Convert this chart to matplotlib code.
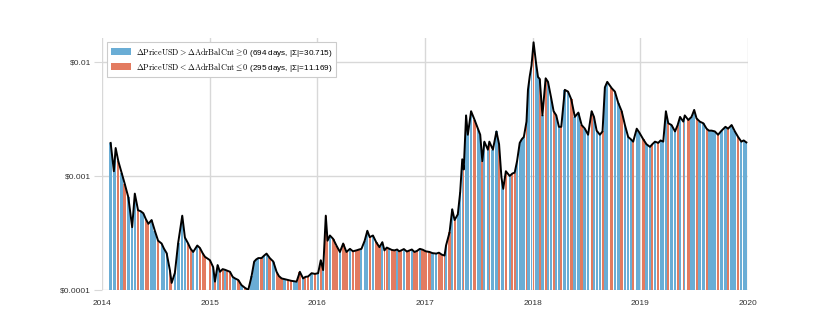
import numpy as np
import pandas as pd
import matplotlib
matplotlib.use("Agg")
import matplotlib.pyplot as plt
import matplotlib.dates as mdates
from matplotlib.patches import Patch
from matplotlib.ticker import FixedLocator, NullLocator

plt.rcParams['font.family'] = ['Liberation Sans', 'DejaVu Sans']
plt.rcParams['mathtext.fontset'] = 'cm'

dates = (
    ["2014-01-30", "2014-02-10", "2014-02-16", "2014-02-25", "2014-03-08", "2014-03-19", "2014-03-31",
     "2014-04-13", "2014-04-22", "2014-05-03", "2014-05-12", "2014-05-21", "2014-05-29", "2014-06-07",
     "2014-06-18", "2014-06-29", "2014-07-10", "2014-07-22", "2014-07-30", "2014-08-08", "2014-08-19",
     "2014-08-25", "2014-09-05", "2014-09-16", "2014-09-30", "2014-10-09", "2014-10-20", "2014-10-28",
     "2014-11-06", "2014-11-20", "2014-11-29", "2014-12-08", "2014-12-16"]
    + ["2015-01-02", "2015-01-13", "2015-01-19", "2015-01-28", "2015-02-05", "2015-02-14", "2015-02-22",
       "2015-03-02", "2015-03-11", "2015-03-20", "2015-03-28", "2015-04-08", "2015-04-19", "2015-05-01",
       "2015-05-12", "2015-05-23", "2015-06-01", "2015-06-08", "2015-06-15", "2015-06-26", "2015-07-05",
       "2015-07-13", "2015-07-24", "2015-08-05", "2015-08-16", "2015-08-24", "2015-09-02", "2015-09-13",
       "2015-09-24", "2015-10-05", "2015-10-14", "2015-10-23", "2015-11-03", "2015-11-14", "2015-11-22",
       "2015-12-01", "2015-12-13", "2015-12-24"]
    + ["2016-01-04", "2016-01-13", "2016-01-21", "2016-01-30", "2016-02-05", "2016-02-13", "2016-02-24",
       "2016-03-06", "2016-03-18", "2016-03-29", "2016-04-09", "2016-04-21", "2016-05-01", "2016-05-13",
       "2016-05-22", "2016-05-30", "2016-06-10", "2016-06-19", "2016-06-27", "2016-07-08", "2016-07-19",
       "2016-07-30", "2016-08-09", "2016-08-16", "2016-08-24", "2016-09-02", "2016-09-10", "2016-09-19",
       "2016-09-28", "2016-10-05", "2016-10-12", "2016-10-21", "2016-10-31", "2016-11-09", "2016-11-17",
       "2016-11-26", "2016-12-05", "2016-12-14", "2016-12-24"]
    + ["2017-01-03", "2017-01-16", "2017-01-26", "2017-02-08", "2017-02-17", "2017-02-26", "2017-03-08",
       "2017-03-13", "2017-03-25", "2017-04-03", "2017-04-11", "2017-04-22", "2017-04-30", "2017-05-07",
       "2017-05-12", "2017-05-20", "2017-05-26", "2017-06-06", "2017-06-18", "2017-06-29", "2017-07-07",
       "2017-07-14", "2017-07-21", "2017-08-02", "2017-08-07", "2017-08-19", "2017-08-31", "2017-09-09",
       "2017-09-17", "2017-09-23", "2017-10-02", "2017-10-15", "2017-10-24", "2017-11-01", "2017-11-09",
       "2017-11-18", "2017-11-25", "2017-12-02", "2017-12-11", "2017-12-16", "2017-12-22", "2017-12-28"]
    + ["2018-01-04", "2018-01-12", "2018-01-19", "2018-01-25", "2018-02-03", "2018-02-14", "2018-02-22",
       "2018-03-05", "2018-03-13", "2018-03-22", "2018-03-31", "2018-04-08", "2018-04-20", "2018-05-01",
       "2018-05-12", "2018-05-24", "2018-06-05", "2018-06-16", "2018-06-27", "2018-07-08", "2018-07-20",
       "2018-07-28", "2018-08-06", "2018-08-17", "2018-08-26", "2018-09-03", "2018-09-11", "2018-09-26",
       "2018-10-07", "2018-10-18", "2018-10-30", "2018-11-10", "2018-11-21", "2018-11-30", "2018-12-08",
       "2018-12-20", "2018-12-29"]
    + ["2019-01-11", "2019-01-22", "2019-02-03", "2019-02-11", "2019-02-20", "2019-03-03", "2019-03-11",
       "2019-03-20", "2019-03-29", "2019-04-06", "2019-04-17", "2019-04-29", "2019-05-08", "2019-05-16",
       "2019-05-27", "2019-06-01", "2019-06-13", "2019-06-24", "2019-07-03", "2019-07-11", "2019-07-22",
       "2019-08-03", "2019-08-14", "2019-08-22", "2019-08-31", "2019-09-11", "2019-09-22", "2019-10-04",
       "2019-10-17", "2019-10-26", "2019-11-07", "2019-11-18", "2019-11-29", "2019-12-10", "2019-12-18",
       "2019-12-27"]
)

price_usd = (
    [0.00195, 0.0011, 0.00176, 0.00135, 0.00107, 0.00085, 0.00065,
     0.000355, 0.0007, 0.0005, 0.00049, 0.00047, 0.00042, 0.00038,
     0.00041, 0.00033, 0.00027, 0.000255, 0.00023, 0.00021, 0.000149,
     0.000115, 0.000141, 0.000257, 0.000448, 0.000288, 0.000255, 0.00023,
     0.000215, 0.000245, 0.000233, 0.00021, 0.000195]
    + [0.000182, 0.000158, 0.000118, 0.000165, 0.000144, 0.000152, 0.00015,
       0.000147, 0.000144, 0.00013, 0.000126, 0.000122, 0.00011, 0.000104,
       0.0001, 0.000131, 0.000177, 0.000185, 0.00019, 0.00019, 0.0002,
       0.000208, 0.00019, 0.000177, 0.000144, 0.000132, 0.000126, 0.000124,
       0.000122, 0.00012, 0.000119, 0.000118, 0.000144, 0.000126, 0.00013,
       0.000131, 0.00014, 0.000138]
    + [0.00014, 0.000182, 0.000149, 0.000448, 0.00027, 0.0003, 0.00028,
       0.000245, 0.000215, 0.000255, 0.000215, 0.000229, 0.000218, 0.000222,
       0.000226, 0.000229, 0.00027, 0.00033, 0.00029, 0.0003, 0.000262,
       0.000237, 0.000262, 0.000222, 0.000235, 0.000229, 0.000224, 0.000222,
       0.000226, 0.000218, 0.000222, 0.000228, 0.000217, 0.000222, 0.000226,
       0.000215, 0.00022, 0.000229, 0.000225]
    + [0.000218, 0.000215, 0.00021, 0.000208, 0.000212, 0.000204, 0.0002,
       0.000245, 0.00032, 0.00051, 0.00041, 0.00046, 0.00072, 0.0014,
       0.00114, 0.0034, 0.0023, 0.0037, 0.0031, 0.0026, 0.0023,
       0.00135, 0.002, 0.0017, 0.002, 0.0017, 0.00246, 0.0019,
       0.00097, 0.00077, 0.0011, 0.001, 0.00105, 0.00107, 0.00135,
       0.00195, 0.0021, 0.0022, 0.003, 0.0057, 0.0075, 0.0093]
    + [0.0149, 0.01, 0.0074, 0.0071, 0.0034, 0.0072, 0.0067,
       0.0048, 0.0037, 0.0034, 0.0027, 0.0027, 0.0057, 0.0055,
       0.0047, 0.0033, 0.0036, 0.0028, 0.0026, 0.0023, 0.0037,
       0.0033, 0.0025, 0.0023, 0.00246, 0.006, 0.0067, 0.0059,
       0.0055, 0.0044, 0.0037, 0.0028, 0.0022, 0.0021, 0.002,
       0.0026, 0.0024]
    + [0.0021, 0.0019, 0.0018, 0.0019, 0.002, 0.00195, 0.00205,
       0.002, 0.0037, 0.0029, 0.0028, 0.00246, 0.0028, 0.0033,
       0.003, 0.0034, 0.0031, 0.0033, 0.0038, 0.0032, 0.003,
       0.0029, 0.0026, 0.0025, 0.0025, 0.00246, 0.0023, 0.0025,
       0.0027, 0.0026, 0.0028, 0.00246, 0.0022, 0.002, 0.00205,
       0.00197]
)

# 1 = ΔPriceUSD > ΔAdrBalCnt ≥ 0 (blue), 0 = ΔPriceUSD < ΔAdrBalCnt ≤ 0 (orange)
direction = (
    [1, 1, 1, 0, 1, 0, 1, 1, 1, 0, 1, 1, 0, 0, 1, 1, 0, 1, 1, 1, 0,
     0, 1, 1, 1, 1, 0, 0, 1, 1, 0, 0, 0]
    + [0, 1, 0, 1, 0, 0, 1, 0, 0, 1, 1, 0, 1, 0, 0, 1, 1, 1, 1, 0, 1,
       1, 0, 1, 0, 0, 0, 1, 0, 0, 1, 1, 0, 1, 0, 0, 1, 0]
    + [1, 0, 1, 0, 0, 1, 0, 0, 1, 0, 0, 1, 0, 0, 0, 1, 1, 1, 0, 1, 0,
       0, 1, 0, 0, 1, 0, 0, 1, 0, 0, 1, 0, 0, 1, 0, 0, 1, 0]
    + [0, 0, 1, 1, 0, 0, 0, 1, 0, 1, 0, 1, 1, 1, 0, 1, 1, 1, 0, 1, 1,
       0, 1, 1, 0, 1, 1, 0, 1, 1, 0, 1, 0, 0, 1, 1, 1, 1, 0, 1, 1, 1]
    + [0, 1, 1, 0, 1, 0, 1, 1, 0, 1, 1, 0, 1, 1, 0, 1, 1, 0, 1, 1, 0,
       1, 1, 1, 0, 1, 1, 0, 1, 1, 0, 1, 1, 1, 0, 1, 1]
    + [0, 1, 1, 0, 1, 0, 1, 1, 1, 0, 1, 1, 0, 1, 0, 1, 0, 1, 1, 0, 1,
       1, 0, 1, 1, 1, 0, 1, 1, 0, 1, 1, 0, 1, 1, 1]
)

y_ticks = [0.0001, 0.001, 0.01]
y_tick_labels = ["$0.0001", "$0.001", "$0.01"]
x_tick_years = [2014, 2015, 2016, 2017, 2018, 2019, 2020]

label_up = r"$\Delta\mathrm{PriceUSD} > \Delta\mathrm{AdrBalCnt} \geq 0$ (694 days, |Σ|=30.715)"
label_down = r"$\Delta\mathrm{PriceUSD} < \Delta\mathrm{AdrBalCnt} \leq 0$ (295 days, |Σ|=11.169)"

BLUE = "#6aadd5"
ORANGE = "#e37b60"

assert len(dates) == len(price_usd) == len(direction)

d = pd.to_datetime(pd.Series(dates))
x = mdates.date2num(d.values)
p = np.array(price_usd)
dirs = np.array(direction)

dx = np.diff(x)
left_gap = np.concatenate([[dx[0]], dx])
right_gap = np.concatenate([dx, [dx[-1]]])
widths = 0.85 * np.minimum(left_gap, right_gap)

fig = plt.figure(figsize=(8.3, 3.32), dpi=100)
ax = fig.add_axes([0.123, 0.127, 0.778, 0.758])

y_bottom = 0.0001
y_top = 0.0162
colors = [BLUE if v == 1 else ORANGE for v in dirs]
ax.bar(x, p - y_bottom, bottom=y_bottom, width=widths, color=colors,
       linewidth=0, align="center", zorder=2)
ax.plot(x, p, color="black", linewidth=1.4, zorder=3)

ax.set_yscale("log")
ax.set_ylim(y_bottom, y_top)
ax.set_xlim(mdates.date2num(pd.Timestamp("2014-01-01")), mdates.date2num(pd.Timestamp("2020-01-01")))

ax.yaxis.set_major_locator(FixedLocator(y_ticks))
ax.yaxis.set_minor_locator(NullLocator())
ax.set_yticklabels(y_tick_labels)
xt = [mdates.date2num(pd.Timestamp(f"{yr}-01-01")) for yr in x_tick_years]
ax.set_xticks(xt)
ax.set_xticklabels([str(yr) for yr in x_tick_years])
ax.xaxis.set_minor_locator(NullLocator())

ax.grid(True, color="#d8d8d8", linewidth=1.0, zorder=0)
ax.set_axisbelow(True)
for s in ax.spines.values():
    s.set_visible(False)
ax.tick_params(axis="y", length=6, color="#d8d8d8", labelsize=6.0, labelcolor="#333333", pad=2)
ax.tick_params(axis="x", length=0, labelsize=6.0, labelcolor="#333333", pad=7)

handles = [Patch(facecolor=BLUE, edgecolor="none"), Patch(facecolor=ORANGE, edgecolor="none")]
leg = ax.legend(handles, [label_up, label_down], loc="upper left", fontsize=5.9,
                frameon=True, fancybox=False, edgecolor="#cccccc", framealpha=1,
                handlelength=2.45, handleheight=0.9, handletextpad=0.6,
                borderpad=0.45, labelspacing=0.25, borderaxespad=0.0,
                bbox_to_anchor=(0.008, 0.985))
leg.get_frame().set_linewidth(0.8)

fig.savefig("out.png", dpi=100)
